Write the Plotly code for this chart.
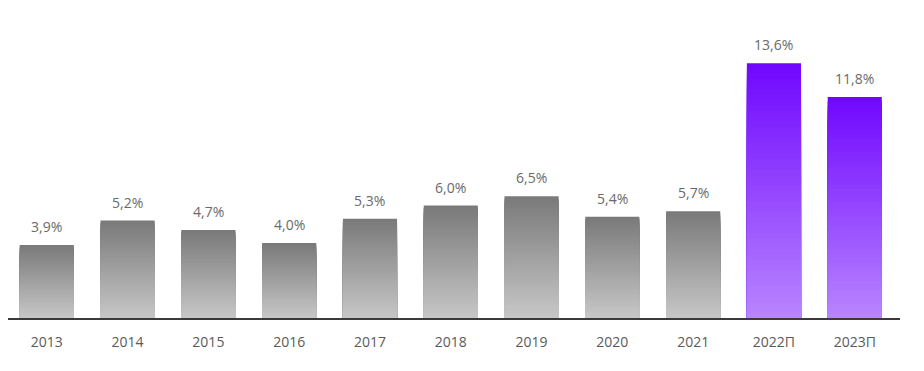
import plotly.graph_objects as go

categories = ["2013", "2014", "2015", "2016", "2017", "2018", "2019", "2020", "2021", "2022П", "2023П"]
values = [3.9, 5.2, 4.7, 4.0, 5.3, 6.0, 6.5, 5.4, 5.7, 13.6, 11.8]
forecast = [False] * 9 + [True, True]

labels = [f"{v:.1f}".replace(".", ",") + "%" for v in values]

# gradient endpoints (top colour, bottom colour)
GRAY_TOP, GRAY_BOT = (122, 122, 122), (198, 198, 198)
PURP_TOP, PURP_BOT = (112, 8, 255), (184, 132, 255)

N = 48

def mix(a, b, t):
    return "rgb(%d,%d,%d)" % tuple(round(a[i] + (b[i] - a[i]) * t) for i in range(3))

fig = go.Figure()
for k in range(N):
    frac = 1 - k / N
    t = k / (N - 1)
    cols = [mix(PURP_TOP, PURP_BOT, t) if f else mix(GRAY_TOP, GRAY_BOT, t) for f in forecast]
    fig.add_trace(go.Bar(
        x=categories,
        y=[v * frac for v in values],
        marker=dict(color=cols, line=dict(width=0)),
        hoverinfo="skip",
        showlegend=False,
    ))

for i, (v, lab) in enumerate(zip(values, labels)):
    fig.add_annotation(x=i, y=v, text=lab, showarrow=False, yanchor="bottom", yshift=7,
                       font=dict(family="Open Sans", size=14, color="#6a6a6a"))

fig.update_layout(
    barmode="overlay",
    bargap=0.33,
    width=924, height=371,
    margin=dict(l=0, r=32, t=29, b=61),
    plot_bgcolor="white",
    paper_bgcolor="white",
    font=dict(family="Open Sans", size=14, color="#5a5a5a"),
    xaxis=dict(
        type="category",
        range=[-0.48, 10.56],
        showgrid=False,
        showline=True, linecolor="#3a3a3a", linewidth=1.5,
        ticks="outside", ticklen=10, tickcolor="rgba(0,0,0,0)",
        tickfont=dict(family="Open Sans", size=14, color="#5a5a5a"),
    ),
    yaxis=dict(
        range=[0, 15],
        visible=False,
        showgrid=False,
        zeroline=False,
    ),
)

fig.write_html("out.html")
